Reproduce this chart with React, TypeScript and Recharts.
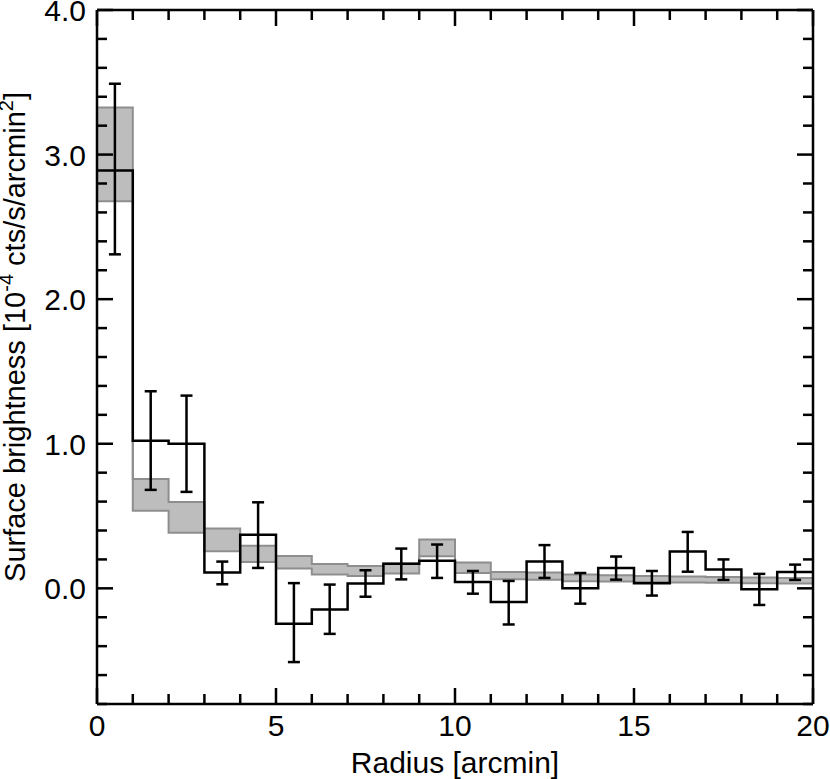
import React from 'react';
import { ComposedChart, Line, Area, ErrorBar, XAxis, YAxis } from 'recharts';

// bin edges in arcmin (20 bins of 1 arcmin)
const binEdges = [0, 1, 2, 3, 4, 5, 6, 7, 8, 9, 10, 11, 12, 13, 14, 15, 16, 17, 18, 19, 20];

// observed surface brightness per bin (1e-4 cts/s/arcmin^2)
const observed = [
  2.89, 1.02, 1.0, 0.11, 0.37, -0.245, -0.146, 0.033, 0.17, 0.19,
  0.044, -0.095, 0.185, 0.0, 0.14, 0.035, 0.254, 0.13, -0.007, 0.113,
];
const errTop = [
  3.49, 1.363, 1.333, 0.185, 0.595, 0.036, 0.026, 0.125, 0.275, 0.303,
  0.12, 0.051, 0.299, 0.106, 0.22, 0.12, 0.39, 0.2, 0.1, 0.164,
];
const errBottom = [
  2.31, 0.681, 0.667, 0.028, 0.141, -0.51, -0.315, -0.058, 0.062, 0.072,
  -0.037, -0.25, 0.072, -0.106, 0.06, -0.05, 0.115, 0.058, -0.115, 0.058,
];

// model band (grey)
const modelLow = [
  2.678, 0.537, 0.384, 0.257, 0.183, 0.137, 0.095, 0.085, 0.102, 0.222,
  0.106, 0.062, 0.06, 0.049, 0.047, 0.044, 0.041, 0.038, 0.035, 0.033,
];
const modelHigh = [
  3.326, 0.757, 0.597, 0.414, 0.294, 0.224, 0.169, 0.155, 0.171, 0.338,
  0.178, 0.113, 0.109, 0.095, 0.09, 0.085, 0.082, 0.078, 0.075, 0.072,
];

const xTicks = [0, 1, 2, 3, 4, 5, 6, 7, 8, 9, 10, 11, 12, 13, 14, 15, 16, 17, 18, 19, 20];
const yTicks = [
  -0.8, -0.6, -0.4, -0.2, 0, 0.2, 0.4, 0.6, 0.8, 1.0, 1.2, 1.4, 1.6, 1.8, 2.0,
  2.2, 2.4, 2.6, 2.8, 3.0, 3.2, 3.4, 3.6, 3.8, 4.0,
];

const FONT = '"Liberation Sans", Helvetica, Arial, sans-serif';
const LW = 2.5;

// step data: one point per bin edge, last edge repeats the last bin
const stepData = binEdges.map((r, i) => {
  const k = Math.min(i, observed.length - 1);
  return { r, obs: observed[k], band: [modelLow[k], modelHigh[k]] };
});

const errData = observed.map((v, i) => ({
  r: binEdges[i] + 0.5,
  obs: v,
  err: [v - errBottom[i], errTop[i] - v],
}));

const isMajorX = (v: number) => v % 5 === 0;
const isMajorY = (v: number) => Math.abs(v - Math.round(v)) < 1e-6;

const BottomTick = (props: any) => {
  const { x, y, payload } = props;
  const major = isMajorX(payload.value);
  return (
    <g>
      <line x1={x} y1={y} x2={x} y2={y - (major ? 16 : 10)} stroke="#000" strokeWidth={LW} />
      {major && (
        <text x={x} y={y + 32} textAnchor="middle" fontSize={30} fontFamily={FONT} fill="#000">
          {payload.value}
        </text>
      )}
    </g>
  );
};

const TopTick = (props: any) => {
  const { x, y, payload } = props;
  const major = isMajorX(payload.value);
  return <line x1={x} y1={y} x2={x} y2={y + (major ? 16 : 10)} stroke="#000" strokeWidth={LW} />;
};

const LeftTick = (props: any) => {
  const { x, y, payload } = props;
  const v = payload.value;
  const major = isMajorY(v);
  return (
    <g>
      <line x1={x} y1={y} x2={x + (major ? 16 : 10)} y2={y} stroke="#000" strokeWidth={LW} />
      {major && v >= 0 && (
        <text x={x - 11} y={y + 11} textAnchor="end" fontSize={30} fontFamily={FONT} fill="#000">
          {v.toFixed(1)}
        </text>
      )}
    </g>
  );
};

const RightTick = (props: any) => {
  const { x, y, payload } = props;
  const major = isMajorY(payload.value);
  return <line x1={x} y1={y} x2={x - (major ? 16 : 10)} y2={y} stroke="#000" strokeWidth={LW} />;
};

const XTitle = (props: any) => {
  const { viewBox } = props;
  return (
    <text
      x={viewBox.x + viewBox.width / 2}
      y={viewBox.y + 69}
      textAnchor="middle"
      fontSize={30}
      fontFamily={FONT}
      fill="#000"
    >
      Radius [arcmin]
    </text>
  );
};

const YTitle = (props: any) => {
  const { viewBox } = props;
  const cx = 25;
  const cy = viewBox.y + viewBox.height / 2 - 20;
  return (
    <text
      x={cx}
      y={cy}
      transform={`rotate(-90 ${cx} ${cy})`}
      textAnchor="middle"
      fontSize={29}
      fontFamily={FONT}
      fill="#000"
    >
      <tspan>Surface brightness [10</tspan>
      <tspan fontSize={20} dy={-12}>-4</tspan>
      <tspan dy={12}> cts/s/arcmin</tspan>
      <tspan fontSize={20} dy={-12}>2</tspan>
      <tspan dy={12}>]</tspan>
    </text>
  );
};

export default function App() {
  return (
    <div style={{ position: 'absolute', left: 0, top: 0, background: '#fff' }}>
      <ComposedChart
        width={830}
        height={779}
        data={stepData}
        margin={{ top: 0, right: 0, bottom: 0, left: 0 }}
      >
        <XAxis
          dataKey="r"
          type="number"
          domain={[0, 20]}
          ticks={xTicks}
          interval={0}
          allowDataOverflow
          height={75}
          tickSize={0}
          tickMargin={0}
          tickLine={false}
          axisLine={{ stroke: '#000', strokeWidth: LW }}
          tick={<BottomTick />}
          label={<XTitle />}
        />
        <XAxis
          xAxisId="top"
          orientation="top"
          dataKey="r"
          type="number"
          domain={[0, 20]}
          ticks={xTicks}
          interval={0}
          allowDataOverflow
          height={10}
          tickSize={0}
          tickMargin={0}
          tickLine={false}
          axisLine={{ stroke: '#000', strokeWidth: LW }}
          tick={<TopTick />}
        />
        <YAxis
          type="number"
          domain={[-0.8, 4]}
          ticks={yTicks}
          interval={0}
          allowDataOverflow
          width={97}
          tickSize={0}
          tickMargin={0}
          tickLine={false}
          axisLine={{ stroke: '#000', strokeWidth: LW }}
          tick={<LeftTick />}
          label={<YTitle />}
        />
        <YAxis
          yAxisId="right"
          orientation="right"
          type="number"
          domain={[-0.8, 4]}
          ticks={yTicks}
          interval={0}
          allowDataOverflow
          width={17}
          tickSize={0}
          tickMargin={0}
          tickLine={false}
          axisLine={{ stroke: '#000', strokeWidth: LW }}
          tick={<RightTick />}
        />
        <Area
          dataKey="band"
          type="stepAfter"
          fill="#bdbdbd"
          fillOpacity={1}
          stroke="#8e8e8e"
          strokeWidth={2}
          isAnimationActive={false}
        />
        <Line
          dataKey="obs"
          type="stepAfter"
          stroke="#000"
          strokeWidth={LW}
          dot={false}
          activeDot={false}
          isAnimationActive={false}
        />
        <Line
          data={errData}
          dataKey="obs"
          stroke="none"
          dot={false}
          activeDot={false}
          isAnimationActive={false}
        >
          <ErrorBar dataKey="err" direction="y" width={6} stroke="#000" strokeWidth={LW} />
        </Line>
      </ComposedChart>
    </div>
  );
}
